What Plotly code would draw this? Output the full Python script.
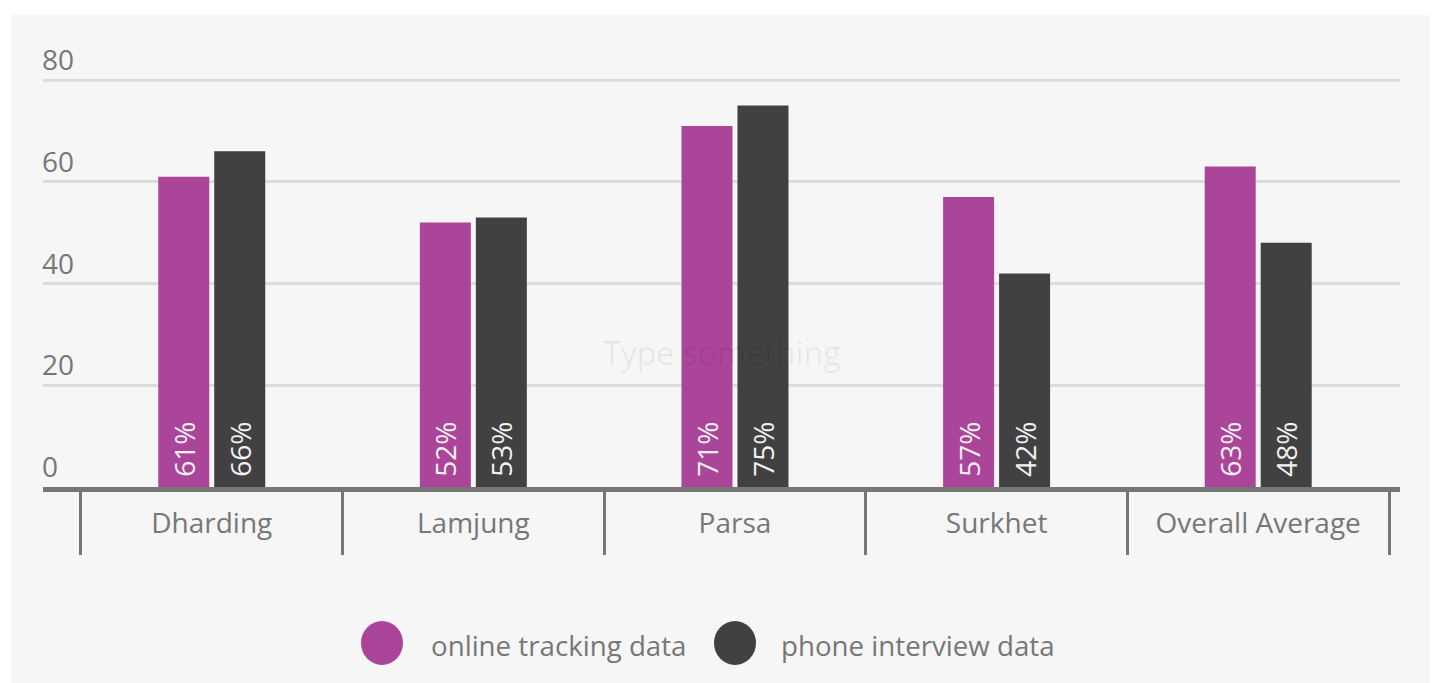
import plotly.graph_objects as go

categories = ["Dharding", "Lamjung", "Parsa", "Surkhet", "Overall Average"]
online_tracking = [61, 52, 71, 57, 63]
phone_interview = [66, 53, 75, 42, 48]
series_names = ["online tracking data", "phone interview data"]
y_ticks = [0, 20, 40, 60, 80]

PINK = "#AA4599"
DARK = "#414141"
AXIS = "#777777"
FONT = "Open Sans"

OFF = 8  # page body margin
W, H = 1438 - OFF, 683 - OFF
Y_TOP = 93
PLOT_L, PLOT_R = 43, 1400          # page px
PLOT_B = 487                       # page px of y=0
PX_PER_UNIT = 407 / 80
PLOT_T = PLOT_B - Y_TOP * PX_PER_UNIT
ML = PLOT_L - OFF
MR = (W + OFF) - PLOT_R
MT = round(PLOT_T - OFF)
MB = (H + OFF) - PLOT_B
PW = W - ML - MR
PH = H - MT - MB
XR = [-0.645, 4.542]

fig = go.Figure()
for name, vals, col in [(series_names[0], online_tracking, PINK), (series_names[1], phone_interview, DARK)]:
    fig.add_trace(go.Bar(
        x=categories, y=vals, name=name, marker=dict(color=col, line=dict(width=0)),
        text=[f"\u00a0{v}%" for v in vals], textposition="inside", insidetextanchor="start",
        textangle=-90, textfont=dict(family=FONT, size=28, color="#f2f2f2"),
        showlegend=False, hoverinfo="skip", cliponaxis=False,
    ))
# helper trace for divider ticks axis
fig.add_trace(go.Scatter(x=categories, y=[None]*5, xaxis="x2", yaxis="y",
                         showlegend=False, hoverinfo="skip"))

def px2paper_x(px):
    return (px - OFF - ML) / PW

def px2paper_y(py):
    return (H - MB - (py - OFF)) / PH

shapes = [
    dict(type="rect", xref="paper", yref="paper", layer="below",
         x0=px2paper_x(11), x1=px2paper_x(1433), y0=px2paper_y(690), y1=px2paper_y(15),
         fillcolor="#f6f6f6", line=dict(width=0)),
]
annotations = [
    dict(text="Type something", xref="paper", yref="paper", x=px2paper_x(722), y=px2paper_y(352),
         xanchor="center", yanchor="middle",
         showarrow=False, font=dict(family=FONT, size=32, color="rgba(0,0,0,0.06)")),
]
# custom legend
legend_items = [(series_names[0], PINK, 382, 429), (series_names[1], DARK, 735, 779)]
for name, col, cx, tx in legend_items:
    shapes.append(dict(type="circle", xref="paper", yref="paper", xsizemode="pixel", ysizemode="pixel",
                       xanchor=px2paper_x(cx), yanchor=px2paper_y(643), x0=-21, x1=21, y0=-22, y1=22,
                       fillcolor=col, line=dict(width=0)))
    annotations.append(dict(text=name, xref="paper", yref="paper", x=px2paper_x(tx), y=px2paper_y(645),
                            xanchor="left", yanchor="middle", showarrow=False,
                            font=dict(family=FONT, size=27.7, color=AXIS)))

fig.update_layout(
    width=W, height=H, margin=dict(l=ML, r=MR, t=MT, b=MB, pad=0),
    paper_bgcolor="white", plot_bgcolor="rgba(0,0,0,0)",
    barmode="group", bargap=0.572, bargroupgap=0.089,
    font=dict(family=FONT, color=AXIS),
    shapes=shapes, annotations=annotations,
    xaxis=dict(range=XR, type="category", categoryarray=categories, showgrid=False, zeroline=False,
               showline=True, linecolor=AXIS, linewidth=5, ticks="", ticklabelstandoff=7,
               tickfont=dict(family=FONT, size=28, color=AXIS)),
    xaxis2=dict(range=XR, type="category", categoryarray=categories, overlaying="x", anchor="y",
                side="bottom", showgrid=False, zeroline=False, showline=False, showticklabels=False,
                ticks="outside", tickson="boundaries", ticklen=67, tickwidth=3, tickcolor=AXIS),
    yaxis=dict(range=[0, Y_TOP], tickvals=y_ticks, showgrid=True, gridcolor="#dcdcdc", gridwidth=3,
               zeroline=False, showline=False, ticks="", ticklabelposition="inside top",
               ticklabelstandoff=-4,
               tickfont=dict(family=FONT, size=28, color=AXIS)),
)

fig.write_html("out.html")
